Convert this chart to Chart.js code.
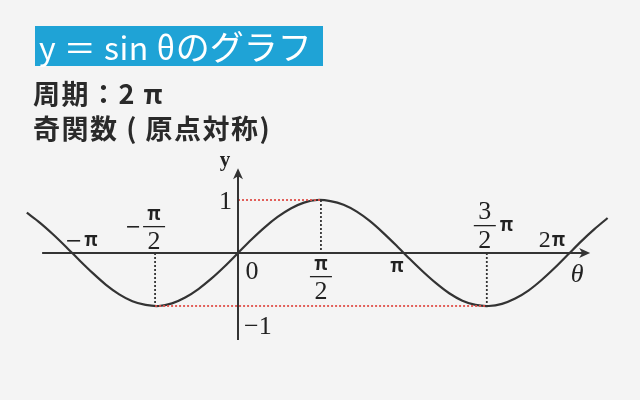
<!DOCTYPE html>
<html>
<head>
<meta charset="utf-8">
<script src="https://cdn.jsdelivr.net/npm/chart.js@4"></script>
<style>
  html, body { margin: 0; padding: 0; background: #f4f4f4; }
  #wrap { position: relative; width: 640px; height: 400px; overflow: hidden; }
  #myChart { position: absolute; left: 0; top: 0; }
  .title {
    position: absolute; left: 35px; top: 26px; width: 288px; height: 40px;
    background: #1fa3d6; color: #fff; font-family: "Noto Sans CJK JP", sans-serif;
    font-size: 34px; line-height: 40px; padding-left: 4px; box-sizing: border-box; white-space: nowrap;
  }
  .title .lat { font-size: 32px; font-weight: 400; letter-spacing: 0.5px; }
  .sub {
    position: absolute; left: 33px; font-family: "Noto Sans CJK JP", sans-serif;
    font-weight: bold; font-size: 27px; color: #2a2a2a; white-space: nowrap; letter-spacing: 1.5px;
  }
</style>
</head>
<body>
<div id="wrap">
  <canvas id="myChart" width="640" height="400"></canvas>
  <div class="title"><span class="lat">y ＝ sin θ</span>のグラフ</div>
  <div class="sub" style="top:73px;">周期：2 π</div>
  <div class="sub" style="top:108px;">奇関数 ( 原点対称)</div>
</div>
<script>
// valores (θ en radianes)
const thetaValues = [-4.0, -3.75, -3.5, -3.25, -3.0, -2.75, -2.5, -2.25, -2.0, -1.75, -1.5, -1.25, -1.0, -0.75, -0.5, -0.25,
  0, 0.25, 0.5, 0.75, 1.0, 1.25, 1.5, 1.75, 2.0, 2.25, 2.5, 2.75, 3.0, 3.25, 3.5, 3.75, 4.0, 4.25, 4.5, 4.75,
  5.0, 5.25, 5.5, 5.75, 6.0, 6.25, 6.5, 6.75, 7.0];
const sinValues = [0.76, 0.57, 0.35, 0.11, -0.14, -0.38, -0.60, -0.78, -0.91, -0.98, -1.0, -0.95, -0.84, -0.68, -0.48, -0.25,
  0, 0.25, 0.48, 0.68, 0.84, 0.95, 1.0, 0.98, 0.91, 0.78, 0.60, 0.38, 0.14, -0.11, -0.35, -0.57, -0.76, -0.90, -0.98, -1.0,
  -0.96, -0.86, -0.71, -0.51, -0.28, -0.03, 0.22, 0.45, 0.66];

const PI = Math.PI;
const xTickValues = [-PI, -PI / 2, 0, PI / 2, PI, 3 * PI / 2, 2 * PI];
const xTickLabels = ['−π', '−π/2', '0', 'π/2', 'π', '3/2π', '2π'];
const yTickValues = [1, -1];
const yTickLabels = ['1', '−1'];
const xAxisRange = [-3.71, 6.67];
const yAxisRange = [-1.64, 1.6];

const serif = '"Liberation Serif", "DejaVu Serif", serif';
const piFont = 'bold 19px "Noto Sans CJK JP", sans-serif';

function drawFrac(ctx, cx, yTop, num, den, numFont) {
    ctx.textAlign = 'center';
    ctx.textBaseline = 'alphabetic';
    ctx.font = numFont;
    ctx.fillText(num, cx, yTop + 16);
    ctx.fillRect(cx - 11, yTop + 22, 22, 1.3);
    ctx.font = '26px ' + serif;
    ctx.fillText(den, cx, yTop + 45);
}

const axesPlugin = {
    id: 'axesPlugin',
    afterDatasetsDraw(chart) {
        const ctx = chart.ctx;
        const xs = chart.scales.x, ys = chart.scales.y;
        const ox = xs.getPixelForValue(0), oy = ys.getPixelForValue(0);
        const x0 = xs.getPixelForValue(xAxisRange[0]), x1 = xs.getPixelForValue(xAxisRange[1]);
        const y0 = ys.getPixelForValue(yAxisRange[0]), y1 = ys.getPixelForValue(yAxisRange[1]);
        ctx.save();
        ctx.strokeStyle = '#333';
        ctx.fillStyle = '#333';
        ctx.lineWidth = 2;
        ctx.beginPath();
        ctx.moveTo(x0, oy); ctx.lineTo(x1 - 4, oy);
        ctx.moveTo(ox, y0); ctx.lineTo(ox, y1 + 4);
        ctx.stroke();
        // flechas
        ctx.beginPath();
        ctx.moveTo(x1, oy); ctx.lineTo(x1 - 11, oy - 5); ctx.lineTo(x1 - 8, oy); ctx.lineTo(x1 - 11, oy + 5); ctx.closePath();
        ctx.moveTo(ox, y1); ctx.lineTo(ox - 5, y1 + 11); ctx.lineTo(ox, y1 + 8); ctx.lineTo(ox + 5, y1 + 11); ctx.closePath();
        ctx.fill();

        ctx.fillStyle = '#222';
        ctx.textBaseline = 'alphabetic';
        // nombres de ejes
        ctx.font = 'bold 21px ' + serif;
        ctx.textAlign = 'center';
        ctx.fillText('y', ox - 13, y1 - 2);
        ctx.font = 'italic 26px ' + serif;
        ctx.fillText('θ', x1 - 13, oy + 29);

        // etiquetas del eje y
        ctx.font = '26px ' + serif;
        ctx.textAlign = 'right';
        ctx.fillText(yTickLabels[0], ox - 6, ys.getPixelForValue(yTickValues[0]) + 9);
        ctx.textAlign = 'left';
        ctx.fillText(yTickLabels[1], ox + 6, ys.getPixelForValue(yTickValues[1]) + 28);

        // etiquetas del eje x
        const px = xTickValues.map(v => xs.getPixelForValue(v));
        ctx.fillRect(px[0] - 5, oy - 13, 13, 1.6);
        ctx.font = piFont;
        ctx.textAlign = 'left';
        ctx.fillText('π', px[0] + 12, oy - 7);
        drawFrac(ctx, px[1] - 1, oy - 49, 'π', '2', piFont);
        ctx.fillRect(px[1] - 28, oy - 27, 12, 1.6);
        ctx.font = '26px ' + serif;
        ctx.textAlign = 'center';
        ctx.fillText('0', ox + 14, oy + 26);
        drawFrac(ctx, px[3], oy + 1, 'π', '2', piFont);
        ctx.font = piFont;
        ctx.fillText('π', px[4] - 7, oy + 19);
        drawFrac(ctx, px[5] - 2, oy - 50, '3', '2', '26px ' + serif);
        ctx.font = piFont;
        ctx.textAlign = 'left';
        ctx.fillText('π', px[5] + 13, oy - 22);
        ctx.font = '24px ' + serif;
        ctx.textAlign = 'left';
        ctx.fillText('2', px[6] - 31, oy - 6);
        ctx.font = piFont;
        ctx.fillText('π', px[6] - 18, oy - 7);
        ctx.restore();
    }
};

const ctx = document.getElementById('myChart').getContext('2d');
const myChart = new Chart(ctx, {
    type: 'scatter',
    data: {
        datasets: [
            {
                data: [{x: 0, y: 1}, {x: PI / 2, y: 1}],
                showLine: true, borderColor: '#e0504a', borderWidth: 1.8, borderDash: [2, 2], pointRadius: 0
            },
            {
                data: [{x: -PI / 2, y: -1}, {x: 3 * PI / 2, y: -1}],
                showLine: true, borderColor: '#e0504a', borderWidth: 1.8, borderDash: [2, 2], pointRadius: 0
            },
            {
                data: [{x: PI / 2, y: 1}, {x: PI / 2, y: 0}],
                showLine: true, borderColor: '#333', borderWidth: 1.8, borderDash: [2, 2], pointRadius: 0
            },
            {
                data: [{x: -PI / 2, y: 0}, {x: -PI / 2, y: -1}],
                showLine: true, borderColor: '#333', borderWidth: 1.8, borderDash: [2, 2], pointRadius: 0
            },
            {
                data: [{x: 3 * PI / 2, y: 0}, {x: 3 * PI / 2, y: -1}],
                showLine: true, borderColor: '#333', borderWidth: 1.8, borderDash: [2, 2], pointRadius: 0
            },
            {
                data: thetaValues.map((t, i) => ({x: t, y: sinValues[i]})),
                showLine: true, borderColor: '#333', borderWidth: 2.2, tension: 0.3, pointRadius: 0
            }
        ]
    },
    options: {
        responsive: false,
        animation: false,
        layout: { padding: { left: 20, right: 20, top: 160, bottom: 60 } },
        scales: {
            x: { type: 'linear', display: false, min: -4.129, max: 7.235 },
            y: { type: 'linear', display: false, min: -1.642, max: 1.755 }
        },
        plugins: {
            legend: { display: false },
            tooltip: { enabled: false }
        }
    },
    plugins: [axesPlugin]
});
</script>
</body>
</html>
